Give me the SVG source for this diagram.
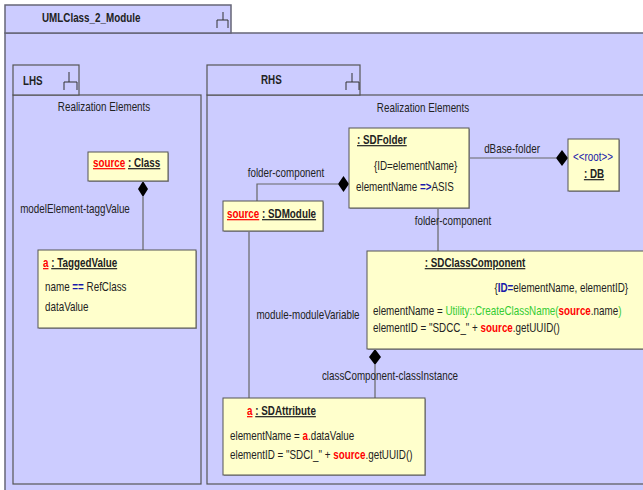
<svg xmlns="http://www.w3.org/2000/svg" width="643" height="490" viewBox="0 0 643 490">
<style>
text{font-family:"Liberation Sans",Arial,sans-serif;font-size:12px;fill:#222;transform-box:fill-box;transform-origin:0% 50%;transform:scaleX(0.82)}
text.m{text-anchor:middle;transform-origin:50% 50%}
text.e{text-anchor:end;transform-origin:100% 50%}
.b{font-weight:bold}
.u{text-decoration:underline}
.red{fill:#ff0000;font-weight:bold}
.blue{fill:#1a1aaa;font-weight:bold}
.bl{fill:#1a1aaa}
.green{fill:#33cc33}
.frame{fill:#ccccff;stroke:#666677;stroke-width:1.5}
.inner{fill:#ccccff;stroke:#555555;stroke-width:1.2}
.box{fill:#ffffcc;stroke:#555555;stroke-width:1}
.shadow{fill:#9999aa}
.conn{stroke:#666666;stroke-width:1.2;fill:none}
.dia{fill:#000000}
.icon{stroke:#333333;stroke-width:1;fill:none}
</style>
<rect x="0" y="0" width="643" height="490" fill="#ffffff"/>
<g id="frame">
<rect class="frame" x="5" y="33" width="660" height="470"/>
<rect class="frame" x="5" y="5" width="226" height="28"/>
<text class="b" x="42" y="22">UMLClass_2_Module</text>
<path class="icon" d="M223,12V20M217,28V20H228V28"/>
</g>
<g id="LHS">
<rect class="inner" x="13" y="95" width="188" height="389"/>
<rect class="inner" x="13" y="65" width="66" height="30"/>
<text class="b" x="23" y="85">LHS</text>
<path class="icon" d="M69,72V82M64,90V82H77V90"/>
<text class="m" x="104" y="111">Realization Elements</text>
</g>
<g id="RHS">
<rect class="inner" x="207" y="95" width="460" height="389"/>
<rect class="inner" x="207" y="65" width="153" height="30"/>
<text class="b" x="261" y="84">RHS</text>
<path class="icon" d="M352,73V82M346,90V82H359V90"/>
<text class="m" x="423" y="112">Realization Elements</text>
</g>
<g id="connectors">
<path class="conn" d="M143,197V250"/>
<path class="dia" d="M143,181L148,189L143,197L138,189Z"/>
<text class="m" x="75" y="213">modelElement-taggValue</text>
<path class="conn" d="M338,184H257V201"/>
<path class="dia" d="M349,184L343.5,176L338,184L343.5,192Z"/>
<text class="m" x="286" y="177">folder-component</text>
<path class="conn" d="M469,158H556"/>
<path class="dia" d="M568,158L562,150L556,158L562,166Z"/>
<text class="m" x="512" y="153">dBase-folder</text>
<path class="conn" d="M438,208V251"/>
<text class="m" x="453" y="225">folder-component</text>
<path class="conn" d="M249,231V398"/>
<text class="m" x="308" y="319">module-moduleVariable</text>
<path class="conn" d="M375,365V398"/>
<path class="dia" d="M375,349L381,357L375,365L369,357Z"/>
<text class="m" x="390" y="380">classComponent-classInstance</text>
</g>
<g id="sourceClass">
<rect class="shadow" x="89" y="153" width="80" height="29"/>
<rect class="box" x="88" y="152" width="80" height="29"/>
<text x="93" y="167"><tspan class="red u">source</tspan><tspan class="b"> </tspan><tspan class="b u">: Class</tspan></text>
</g>
<g id="aTaggedValue">
<rect class="shadow" x="39" y="251" width="158" height="78"/>
<rect class="box" x="38" y="250" width="158" height="78"/>
<text x="43" y="267"><tspan class="red u">a</tspan><tspan class="b"> </tspan><tspan class="b u">: TaggedValue</tspan></text>
<text x="45" y="291">name <tspan class="blue">==</tspan> RefClass</text>
<text x="45" y="311">dataValue</text>
</g>
<g id="SDFolder">
<rect class="shadow" x="350" y="129" width="120" height="80"/>
<rect class="box" x="349" y="128" width="120" height="80"/>
<text class="b u" x="357" y="144">: SDFolder</text>
<text x="374" y="170">{ID=elementName}</text>
<text x="356" y="191">elementName <tspan class="blue">=&gt;</tspan>ASIS</text>
</g>
<g id="DB">
<rect class="shadow" x="569" y="140" width="51" height="52"/>
<rect class="box" x="568" y="139" width="51" height="52"/>
<text class="m bl" x="593" y="161">&lt;&lt;root&gt;&gt;</text>
<text class="m b u" x="594" y="178">: DB</text>
</g>
<g id="sourceSDModule">
<rect class="shadow" x="224" y="202" width="100" height="30"/>
<rect class="box" x="223" y="201" width="100" height="30"/>
<text x="227" y="218"><tspan class="red u">source</tspan><tspan class="b"> </tspan><tspan class="b u">: SDModule</tspan></text>
</g>
<g id="SDClassComponent">
<rect class="shadow" x="368" y="252" width="280" height="98"/>
<rect class="box" x="367" y="251" width="280" height="98"/>
<text class="m b u" x="475" y="267">: SDClassComponent</text>
<text class="e" x="628" y="292">{<tspan class="blue">ID=</tspan>elementName, elementID}</text>
<text x="373" y="315">elementName = <tspan class="green">Utility::CreateClassName(</tspan><tspan class="red">source</tspan>.name<tspan class="green">)</tspan></text>
<text x="373" y="332">elementID = "SDCC_" + <tspan class="red">source</tspan>.getUUID()</text>
</g>
<g id="aSDAttribute">
<rect class="shadow" x="224" y="399" width="202" height="77"/>
<rect class="box" x="223" y="398" width="202" height="77"/>
<text x="247" y="415"><tspan class="red u">a</tspan><tspan class="b"> </tspan><tspan class="b u">: SDAttribute</tspan></text>
<text x="230" y="440">elementName = <tspan class="red">a</tspan>.dataValue</text>
<text x="230" y="459">elementID = "SDCI_" + <tspan class="red">source</tspan>.getUUID()</text>
</g>
</svg>
